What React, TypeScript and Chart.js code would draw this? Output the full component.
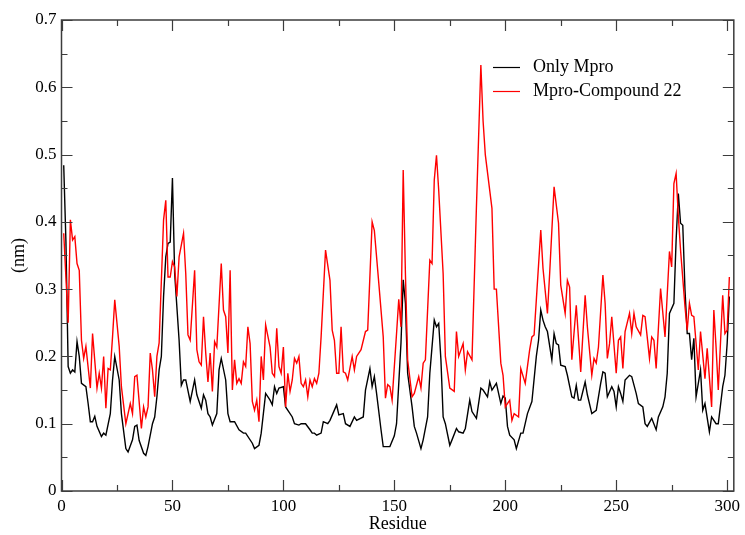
import React, { useEffect, useRef } from "react";
import { Chart, registerables } from "chart.js";

Chart.register(...registerables);

// Per-residue RMSF (nm) of the apo protease
const residuesApo = [
  1, 2, 3, 4, 5, 6, 7, 8, 9, 11, 12, 13, 14, 15, 16, 18, 19, 20, 22, 23, 24, 26, 27, 29, 30, 32, 33, 34, 35, 37, 38, 39,
  41, 42, 43, 44, 45, 46, 47, 48, 49, 50, 51, 53, 54, 55, 56, 58, 60, 61, 63, 64, 65, 66, 67, 68, 70, 71, 72, 74, 75,
  76, 78, 80, 82, 83, 86, 87, 89, 90, 92, 94, 95, 96, 97, 98, 100, 101, 104, 105, 107, 108, 110, 112, 113, 114, 115,
  117, 118, 120, 121, 124, 125, 127, 128, 130, 132, 133, 136, 137, 139, 140, 141, 142, 144, 145, 148, 150, 151, 152,
  153, 154, 155, 156, 158, 159, 160, 162, 163, 165, 166, 168, 169, 170, 171, 172, 173, 175, 176, 178, 179, 181, 182,
  184, 185, 187, 189, 190, 192, 193, 194, 196, 198, 199, 200, 201, 202, 204, 205, 207, 208, 210, 212, 214, 215, 216,
  217, 218, 219, 221, 222, 223, 224, 225, 227, 228, 230, 231, 232, 233, 234, 236, 237, 239, 241, 243, 244, 245, 246,
  248, 249, 250, 251, 252, 253, 254, 256, 257, 259, 260, 262, 263, 264, 266, 268, 269, 271, 272, 273, 274, 276, 277,
  278, 279, 280, 281, 282, 283, 284, 285, 286, 288, 289, 290, 292, 293, 295, 296, 298, 299, 300, 301,
];
const onlyMpro = [
  0.484, 0.37, 0.185, 0.175, 0.18, 0.177, 0.222, 0.2, 0.16, 0.155, 0.13, 0.103, 0.103, 0.111, 0.096, 0.081, 0.086,
  0.083, 0.115, 0.165, 0.2, 0.165, 0.115, 0.063, 0.058, 0.076, 0.096, 0.098, 0.075, 0.056, 0.053, 0.066,
  0.1, 0.11, 0.14, 0.18, 0.2, 0.289, 0.348, 0.368, 0.37, 0.465, 0.323, 0.224, 0.157, 0.165, 0.165, 0.133, 0.165,
  0.143, 0.123, 0.143, 0.135, 0.115, 0.11, 0.098, 0.115, 0.18, 0.197, 0.165, 0.115,
  0.103, 0.103, 0.091, 0.086, 0.086, 0.071, 0.063, 0.068, 0.086, 0.145, 0.135, 0.128, 0.155, 0.145, 0.153, 0.155,
  0.125, 0.11, 0.1, 0.098, 0.1, 0.1, 0.091, 0.086, 0.086, 0.083,
  0.086, 0.103, 0.1, 0.105, 0.128, 0.113, 0.115, 0.1, 0.096, 0.11, 0.105, 0.11, 0.15, 0.182, 0.155, 0.17, 0.145,
  0.091, 0.066, 0.066, 0.082, 0.1, 0.16,
  0.22, 0.314, 0.279, 0.175, 0.125, 0.096, 0.086, 0.063, 0.076, 0.11, 0.175, 0.254, 0.244, 0.249, 0.195, 0.11, 0.1,
  0.068, 0.076, 0.093, 0.088, 0.086, 0.093,
  0.135, 0.118, 0.108, 0.153, 0.15, 0.14, 0.162, 0.15, 0.16, 0.13, 0.141, 0.138, 0.096, 0.083, 0.076, 0.063, 0.086,
  0.086, 0.115, 0.133, 0.2, 0.224, 0.269,
  0.254, 0.244, 0.237, 0.195, 0.234, 0.219, 0.217, 0.187, 0.185, 0.172, 0.14, 0.138, 0.157, 0.135, 0.135, 0.162,
  0.143, 0.115, 0.12, 0.16, 0.177, 0.175, 0.14,
  0.155, 0.148, 0.125, 0.155, 0.145, 0.133, 0.165, 0.172, 0.17, 0.145, 0.13, 0.125, 0.1, 0.096, 0.108, 0.091, 0.11,
  0.125, 0.14, 0.175, 0.264, 0.279, 0.373,
  0.442, 0.398, 0.395, 0.299, 0.234, 0.234, 0.195, 0.227, 0.14, 0.18, 0.12, 0.13, 0.088, 0.11, 0.1, 0.1, 0.155,
  0.172, 0.219, 0.289,
];

// Per-residue RMSF (nm) of the protease bound to compound 22
const residuesComplex = [
  1, 3, 4, 5, 6, 7, 8, 9, 10, 11, 13, 14, 16, 17, 18, 19, 20, 21, 22, 23, 24, 26, 27, 29, 31, 32, 33, 34, 36, 37, 38,
  39, 40, 41, 42, 43, 44, 46, 47, 48, 49, 50, 51, 52, 53, 55, 56, 57, 58, 60, 61, 62, 63, 64, 65, 66, 67, 68, 69, 70,
  72, 73, 74, 75, 76, 77, 78, 79, 80, 81, 82, 83, 84, 85, 86, 87, 88, 89, 90, 91, 92, 94, 95, 96, 97, 98, 99, 100,
  101, 102, 103, 104, 105, 106, 107, 108, 109, 110, 111, 112, 113, 114, 115, 116, 117, 119, 121, 122, 123, 124, 125,
  126, 127, 128, 129, 131, 132, 133, 135, 137, 138, 140, 141, 143, 145, 146, 147, 148, 149, 151, 152, 153, 154, 155,
  156, 158, 159, 161, 162, 163, 164, 166, 167, 168, 169, 170, 172, 173, 175, 177, 178, 179, 181, 182, 183, 185, 187,
  189, 190, 191, 194, 195, 196, 198, 199, 200, 202, 203, 204, 206, 207, 209, 211, 212, 213, 214, 216, 217, 219, 220,
  222, 224, 225, 227, 228, 229, 230, 232, 234, 236, 237, 239, 240, 241, 242, 244, 245, 246, 247, 248, 250, 251, 252,
  253, 254, 256, 257, 258, 259, 261, 262, 263, 265, 266, 267, 268, 270, 272, 274, 275, 276, 277, 278, 279, 281, 282,
  283, 284, 285, 287, 288, 290, 291, 293, 294, 295, 296, 298, 299, 300, 301,
];
const mproCompound22 = [
  0.383, 0.25, 0.403, 0.373, 0.378, 0.338, 0.328, 0.224, 0.197, 0.215, 0.153, 0.234, 0.153, 0.175, 0.153, 0.2, 0.123,
  0.182, 0.18, 0.229, 0.284, 0.215, 0.155, 0.1, 0.13, 0.115, 0.17, 0.172, 0.093, 0.125, 0.11,
  0.125, 0.205, 0.18, 0.14, 0.2, 0.22, 0.403, 0.432, 0.318, 0.318, 0.341, 0.333, 0.289, 0.348, 0.383, 0.323, 0.232,
  0.224, 0.328, 0.21, 0.192, 0.187, 0.259, 0.205, 0.162, 0.205, 0.148, 0.222, 0.214,
  0.338, 0.269, 0.259, 0.205, 0.328, 0.15, 0.195, 0.16, 0.167, 0.16, 0.192, 0.185, 0.244, 0.219, 0.133, 0.12, 0.135,
  0.103, 0.2, 0.165, 0.247, 0.214, 0.175, 0.17, 0.242, 0.185, 0.175, 0.214,
  0.125, 0.175, 0.148, 0.165, 0.197, 0.19, 0.2, 0.16, 0.155, 0.165, 0.14, 0.165, 0.155, 0.167, 0.16, 0.175, 0.229,
  0.358, 0.313, 0.239, 0.224, 0.175, 0.175,
  0.244, 0.177, 0.175, 0.165, 0.2, 0.18, 0.2, 0.21, 0.237, 0.239, 0.4, 0.387, 0.309, 0.229, 0.138, 0.158, 0.155,
  0.135, 0.234, 0.285, 0.244, 0.477, 0.323,
  0.195, 0.14, 0.145, 0.17, 0.153, 0.19, 0.195, 0.343, 0.338, 0.462, 0.499, 0.447, 0.323, 0.2, 0.153, 0.148, 0.237,
  0.2, 0.219, 0.18, 0.207, 0.195, 0.422,
  0.633, 0.55, 0.5, 0.42, 0.3, 0.3, 0.19, 0.172, 0.125, 0.135, 0.105, 0.115, 0.11, 0.182, 0.16, 0.21, 0.229, 0.232,
  0.284, 0.388, 0.331, 0.264, 0.323,
  0.452, 0.398, 0.306, 0.264, 0.313, 0.303, 0.195, 0.276, 0.177, 0.291, 0.244, 0.172, 0.197, 0.19, 0.214, 0.321,
  0.279, 0.197, 0.219, 0.259, 0.175, 0.224, 0.229,
  0.182, 0.237, 0.264, 0.234, 0.264, 0.244, 0.232, 0.261, 0.259, 0.197, 0.229, 0.224, 0.182, 0.301, 0.229, 0.356,
  0.333, 0.457, 0.472, 0.408, 0.358, 0.274, 0.239,
  0.279, 0.261, 0.259, 0.18, 0.237, 0.167, 0.212, 0.125, 0.269, 0.214, 0.15, 0.291, 0.234, 0.239, 0.318,
];

const xTickValues = [0, 50, 100, 150, 200, 250, 300];
const yTickValues = [0, 0.1, 0.2, 0.3, 0.4, 0.5, 0.6, 0.7];
const seriesNames = ["Only Mpro", "Mpro-Compound 22"];
const seriesColors = ["#000000", "#ff0000"];

const X_MAX = 303;
const Y_MAX = 0.7;
const SERIF = "'Liberation Serif', 'Times New Roman', serif";
const FRAME = "#3c3c3c";
const LINE_WIDTH = 1.4;

// Box frame with inward major/minor ticks on all four sides, axis titles and legend
const framePlugin = {
  id: "frame",
  afterDraw(chart: any) {
    const { ctx, chartArea } = chart;
    const { left, right, top, bottom } = chartArea;
    const xs = chart.scales.x;
    const ys = chart.scales.y;
    ctx.save();
    ctx.strokeStyle = FRAME;
    ctx.lineWidth = 1.5;
    ctx.strokeRect(left, top, right - left, bottom - top);

    ctx.lineWidth = 1.2;
    ctx.beginPath();
    for (let v = 0; v <= 300; v += 25) {
      const px = Math.round(xs.getPixelForValue(v)) + 0.5;
      const len = v % 50 === 0 ? 11 : 6;
      ctx.moveTo(px, bottom);
      ctx.lineTo(px, bottom - len);
      ctx.moveTo(px, top);
      ctx.lineTo(px, top + len);
    }
    for (let i = 0; i <= 14; i++) {
      const v = i * 0.05;
      const py = Math.round(ys.getPixelForValue(v)) + 0.5;
      const len = i % 2 === 0 ? 11 : 6;
      ctx.moveTo(left, py);
      ctx.lineTo(left + len, py);
      ctx.moveTo(right, py);
      ctx.lineTo(right - len, py);
    }
    ctx.stroke();

    // axis titles
    ctx.fillStyle = "#000";
    ctx.font = `18px ${SERIF}`;
    ctx.textAlign = "center";
    ctx.textBaseline = "middle";
    ctx.fillText("Residue", (left + right) / 2, 524);
    ctx.save();
    ctx.translate(19, (top + bottom) / 2);
    ctx.rotate(-Math.PI / 2);
    ctx.fillText("(nm)", 0, 0);
    ctx.restore();

    // legend
    const legendY = [67, 91];
    seriesNames.forEach((name, i) => {
      ctx.strokeStyle = seriesColors[i];
      ctx.lineWidth = 1.2;
      ctx.beginPath();
      ctx.moveTo(493, legendY[i] + 0.5);
      ctx.lineTo(520, legendY[i] + 0.5);
      ctx.stroke();
      ctx.fillStyle = "#000";
      ctx.textAlign = "left";
      ctx.fillText(name, 533, legendY[i]);
    });
    ctx.restore();
  },
};

export default function App() {
  const canvasRef = useRef<HTMLCanvasElement>(null);

  useEffect(() => {
    const canvas = canvasRef.current;
    if (!canvas) return;
    const chart = new Chart(canvas, {
      type: "line",
      data: {
        datasets: [
          {
            label: seriesNames[1],
            data: residuesComplex.map((x, i) => ({ x, y: mproCompound22[i] })),
            borderColor: seriesColors[1],
            borderWidth: LINE_WIDTH,
            pointRadius: 0,
            tension: 0,
          },
          {
            label: seriesNames[0],
            data: residuesApo.map((x, i) => ({ x, y: onlyMpro[i] })),
            borderColor: seriesColors[0],
            borderWidth: LINE_WIDTH,
            pointRadius: 0,
            tension: 0,
          },
        ],
      },
      options: {
        responsive: false,
        animation: false,
        devicePixelRatio: 1,
        layout: { padding: { top: 20, right: 10, left: 0, bottom: 0 } },
        plugins: { legend: { display: false }, tooltip: { enabled: false } },
        scales: {
          x: {
            type: "linear",
            min: 0,
            max: X_MAX,
            grid: { display: false, drawTicks: false },
            border: { display: false },
            afterBuildTicks: (scale: any) => {
              scale.ticks = xTickValues.map((value) => ({ value }));
            },
            afterFit: (scale: any) => {
              scale.height = 44;
            },
            ticks: {
              color: "#000",
              padding: 5,
              maxRotation: 0,
              font: { family: SERIF, size: 17 },
              callback: (v: any) => String(v),
            },
          },
          y: {
            type: "linear",
            min: 0,
            max: Y_MAX,
            grid: { display: false, drawTicks: false },
            border: { display: false },
            afterBuildTicks: (scale: any) => {
              scale.ticks = yTickValues.map((value) => ({ value }));
            },
            afterFit: (scale: any) => {
              scale.width = 61.5;
            },
            ticks: {
              color: "#000",
              padding: 5,
              font: { family: SERIF, size: 17 },
              callback: (v: any) => (v === 0 ? "0" : Number(v).toFixed(1)),
            },
          },
        },
      },
      plugins: [framePlugin],
    });
    return () => chart.destroy();
  }, []);

  return (
    <div style={{ position: "absolute", left: 0, top: 0, width: 745, height: 535, background: "#fff" }}>
      <canvas ref={canvasRef} width={745} height={535} />
    </div>
  );
}
